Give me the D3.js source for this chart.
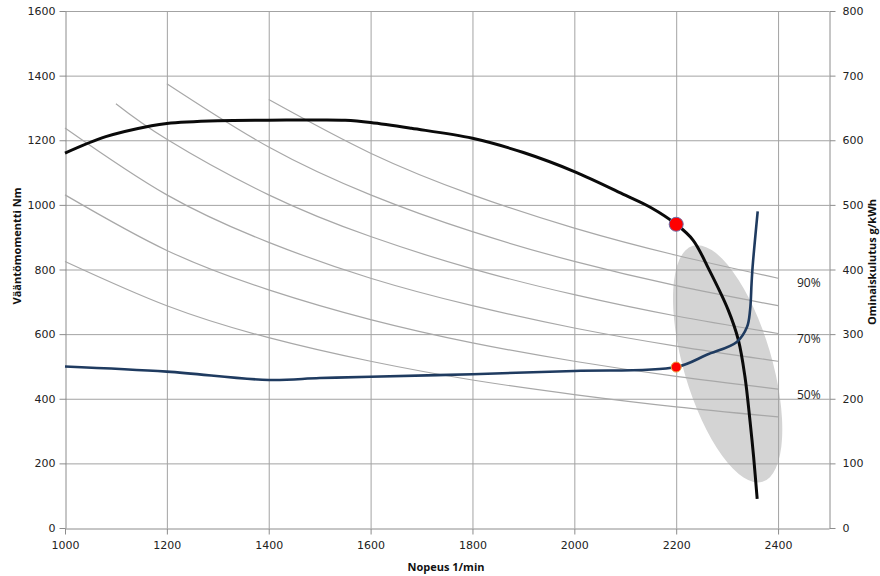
<!DOCTYPE html>
<html>
<head>
<meta charset="utf-8">
<script src="https://cdn.jsdelivr.net/npm/d3@7"></script>
<style>
  body { margin: 0; background: #fff; }
  svg { display: block; }
  .tick text { font-family: "DejaVu Sans", Verdana, sans-serif; font-size: 11px; fill: #222; }
  .axis path, .axis line { stroke: #8c8c8c; }
  .title { font-family: "Open Sans", sans-serif; font-weight: bold; font-size: 11px; fill: #111; }
  .pct { font-family: "Open Sans", sans-serif; font-size: 12px; fill: #222; }
</style>
</head>
<body>
<svg></svg>
<script>
const width = 880;
const height = 576;
const margin = {top: 11, right: 51, bottom: 48, left: 65};

// Speed axis ticks (1/min), torque ticks (Nm), fuel ticks (g/kWh)
const speedTicks = [1000, 1200, 1400, 1600, 1800, 2000, 2200, 2400];
const torqueTicks = [0, 200, 400, 600, 800, 1000, 1200, 1400, 1600];
const fuelTicks = [0, 100, 200, 300, 400, 500, 600, 700, 800];

// Full-load torque curve
const torqueRpm = [1000, 1080, 1170, 1200, 1300, 1400, 1500, 1550, 1600, 1680, 1800, 1900, 2000, 2100, 2150, 2200, 2233, 2265, 2302, 2322, 2335, 2345, 2352, 2359];
const torqueNm = [1160, 1211, 1245, 1252, 1260, 1262, 1263, 1262, 1255, 1237, 1206, 1162, 1103, 1030, 992, 940, 891, 798, 675, 582, 468, 330, 220, 90];

// Specific fuel consumption curve
const fuelRpm = [1000, 1200, 1400, 1500, 1600, 1800, 2000, 2200, 2260, 2319, 2339, 2345, 2348, 2350, 2360];
const fuelGkwh = [250, 242, 229, 232, 234, 238, 243, 249, 268, 288, 311, 337, 379, 404, 490];

// Constant power lines (share of max power), torque read at grid speeds
const powerLines = [
  {label: "40%", rpm: [1000, 1200, 1400, 1600, 1800, 2000, 2200, 2400], nm: [825, 688, 589, 516, 458, 413, 375, 344]},
  {label: "50%", rpm: [1000, 1200, 1400, 1600, 1800, 2000, 2200, 2400], nm: [1031, 859, 737, 645, 573, 516, 469, 430]},
  {label: "60%", rpm: [1000, 1200, 1400, 1600, 1800, 2000, 2200, 2400], nm: [1238, 1031, 884, 773, 688, 619, 563, 516]},
  {label: "70%", rpm: [1100, 1200, 1400, 1600, 1800, 2000, 2200, 2400], nm: [1313, 1203, 1031, 902, 802, 722, 656, 602]},
  {label: "80%", rpm: [1200, 1400, 1600, 1800, 2000, 2200, 2400], nm: [1375, 1179, 1031, 917, 825, 750, 688]},
  {label: "90%", rpm: [1400, 1600, 1800, 2000, 2200, 2400], nm: [1326, 1160, 1031, 928, 844, 773]}
];

// Percent labels placed on the right (torque level they sit at)
const pctLabels = ["90%", "70%", "50%"];
const pctLevels = [758, 584, 411];

// Marked operating points
const maxTorquePoint = {rpm: 2200, nm: 940};
const minFuelPoint = {rpm: 2200, g: 249};

// Shaded operating area centre
const area = {rpm: 2301, nm: 508};

const svg = d3.select("svg")
    .attr("width", width)
    .attr("height", height);

const x = d3.scaleLinear().domain([1000, 2500]).range([margin.left, width - margin.right]);
const yT = d3.scaleLinear().domain([0, 1600]).range([height - margin.bottom, margin.top]);
const yF = d3.scaleLinear().domain([0, 800]).range([height - margin.bottom, margin.top]);

// Shaded ellipse (behind the grid)
svg.append("ellipse")
    .attr("cx", 0).attr("cy", 0)
    .attr("rx", 123).attr("ry", 44)
    .attr("transform", `translate(${x(area.rpm)},${yT(area.nm)}) rotate(73.6)`)
    .attr("fill", "#d4d4d4");

// Grid
const grid = svg.append("g").attr("stroke", "#a3a3a3").attr("stroke-width", 1);
grid.selectAll(".vg")
    .data(speedTicks.slice(1))
    .enter().append("line")
    .attr("x1", d => x(d) + 0.5).attr("x2", d => x(d) + 0.5)
    .attr("y1", yT(0)).attr("y2", yT(1600));
grid.selectAll(".hg")
    .data(torqueTicks.slice(1))
    .enter().append("line")
    .attr("x1", x(1000)).attr("x2", x(2500))
    .attr("y1", d => yT(d) + 0.5).attr("y2", d => yT(d) + 0.5);

// Axes
svg.append("g")
    .attr("class", "axis")
    .attr("transform", `translate(${margin.left + 0.5},0)`)
    .call(d3.axisLeft(yT).tickValues(torqueTicks).tickFormat(d3.format("d")).tickSizeOuter(0).tickPadding(4));

svg.append("g")
    .attr("class", "axis")
    .attr("transform", `translate(${width - margin.right + 0.5},0)`)
    .call(d3.axisRight(yF).tickValues(fuelTicks).tickFormat(d3.format("d")).tickSizeOuter(0).tickPadding(7));

svg.append("g")
    .attr("class", "axis")
    .attr("transform", `translate(0,${height - margin.bottom + 0.5})`)
    .call(d3.axisBottom(x).tickValues(speedTicks).tickFormat(d3.format("d")).tickSizeOuter(0).tickPadding(7));

// Power lines
const powerLine = d3.line()
    .x(d => x(d[0]))
    .y(d => yT(d[1]))
    .curve(d3.curveNatural);

svg.append("g").selectAll("path")
    .data(powerLines)
    .enter().append("path")
    .attr("d", d => powerLine(d.rpm.map((r, i) => [r, d.nm[i]])))
    .attr("fill", "none")
    .attr("stroke", "#a8a8a8")
    .attr("stroke-width", 1.2);

// Torque curve
const torqueLine = d3.line()
    .x(d => x(d[0]))
    .y(d => yT(d[1]))
    .curve(d3.curveCatmullRom.alpha(0.5));

svg.append("path")
    .attr("d", torqueLine(torqueRpm.map((r, i) => [r, torqueNm[i]])))
    .attr("fill", "none")
    .attr("stroke", "#0a0a0a")
    .attr("stroke-width", 3);

// Fuel curve
const fuelLine = d3.line()
    .x(d => x(d[0]))
    .y(d => yF(d[1]))
    .curve(d3.curveCatmullRom.alpha(0.5));

svg.append("path")
    .attr("d", fuelLine(fuelRpm.map((r, i) => [r, fuelGkwh[i]])))
    .attr("fill", "none")
    .attr("stroke", "#1f3b60")
    .attr("stroke-width", 2.6);

// Points
svg.append("circle")
    .attr("cx", x(maxTorquePoint.rpm))
    .attr("cy", yT(maxTorquePoint.nm))
    .attr("r", 7)
    .attr("fill", "#ff0000")
    .attr("stroke", "#6d6da8")
    .attr("stroke-width", 1);

svg.append("circle")
    .attr("cx", x(minFuelPoint.rpm))
    .attr("cy", yF(minFuelPoint.g))
    .attr("r", 5)
    .attr("fill", "#ff0000")
    .attr("stroke", "#e8a040")
    .attr("stroke-width", 1);

// Percent labels
svg.append("g").selectAll("text")
    .data(pctLabels)
    .enter().append("text")
    .attr("class", "pct")
    .attr("x", 797)
    .attr("y", (d, i) => yT(pctLevels[i]))
    .attr("dy", "0.35em")
    .text(d => d);

// Axis titles
svg.append("text")
    .attr("class", "title")
    .attr("text-anchor", "middle")
    .attr("x", 446)
    .attr("y", 571)
    .text("Nopeus 1/min");

svg.append("text")
    .attr("class", "title")
    .attr("text-anchor", "middle")
    .attr("transform", "translate(21,246) rotate(-90)")
    .text("Vääntömomentti Nm");

svg.append("text")
    .attr("class", "title")
    .attr("text-anchor", "middle")
    .attr("transform", "translate(876,262) rotate(-90)")
    .text("Ominaiskulutus g/kWh");
</script>
</body>
</html>
